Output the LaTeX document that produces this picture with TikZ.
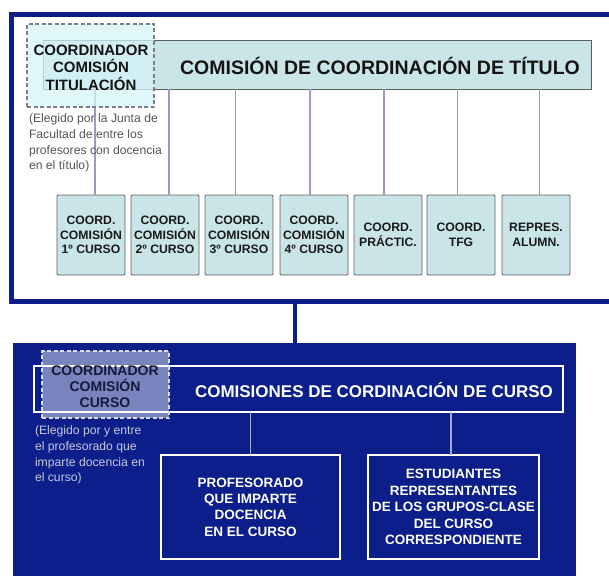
\documentclass[tikz,border=0pt]{standalone}
\usepackage{fontspec}
\setmainfont{Liberation Sans}
\definecolor{navy}{HTML}{0B1E8A}
\definecolor{lcyan}{HTML}{C9E5E8}
\definecolor{pcyan}{HTML}{D6F4F9}
\definecolor{edgegray}{HTML}{5A5F62}
\definecolor{vgray}{HTML}{9A9CBC}
\definecolor{notegray}{HTML}{555555}
\definecolor{notelight}{HTML}{C5C9DD}
\definecolor{darktext}{HTML}{15193A}
\definecolor{vblue}{HTML}{A3ABD2}
\tikzset{
  boxat/.style={anchor=north west, inner sep=0pt, outer sep=0pt},
  smallbox/.style={boxat, draw=edgegray, line width=0.9pt, fill=lcyan, rounded corners=1pt,
    minimum width=68pt, minimum height=80pt, align=center, text=black!90,
    font=\bfseries\fontsize{12.2}{14.5}\selectfont},
  vline/.style={draw=vgray, line width=1.5pt},
  wline/.style={draw=vblue, line width=1.5pt},
  whitebox/.style={boxat, draw=white, line width=2.2pt, minimum height=104pt, align=center,
    text=white, font=\bfseries\fontsize{13.5}{16.4}\selectfont},
}
\begin{document}
\begin{tikzpicture}[x=1pt,y=-1pt]
\useasboundingbox (0,0) rectangle (609,575);
\clip (0,0) rectangle (609,575);
% top frame
\node[boxat, draw=navy, line width=5pt, minimum width=620pt, minimum height=286pt] (topframe) at (11.5,15) {};
% bottom navy box
\node[boxat, fill=navy, minimum width=563pt, minimum height=260pt] (botframe) at (13,343) {};
\coordinate (cx) at (295,320);
\draw[navy, line width=4pt] (cx |- topframe.south) -- (cx |- botframe.north);
% header
\node[boxat, draw=edgegray, line width=0.9pt, fill=lcyan, minimum width=548pt, minimum height=49pt] (head) at (43,40) {};
\node[font=\bfseries\fontsize{19.5}{22}\selectfont, text=black!92] (title) at (380,66) {COMISIÓN DE COORDINACIÓN DE TÍTULO};
% small boxes
\node[smallbox] (b1) at (57,195) {COORD.\\COMISIÓN\\1º CURSO};
\node[smallbox] (b2) at (131,195) {COORD.\\COMISIÓN\\2º CURSO};
\node[smallbox] (b3) at (205,195) {COORD.\\COMISIÓN\\3º CURSO};
\node[smallbox] (b4) at (280,195) {COORD.\\COMISIÓN\\4º CURSO};
\node[smallbox] (b5) at (354,195) {COORD.\\PRÁCTIC.};
\node[smallbox] (b6) at (427,195) {COORD.\\TFG};
\node[smallbox] (b7) at (502,195) {REPRES.\\ALUMN.};
\draw[vline] ([xshift=4pt]b1.north) -- ([xshift=4pt]b1.north |- head.south);
\draw[vline] ([xshift=4pt]b2.north) -- ([xshift=4pt]b2.north |- head.south);
\draw[vline] ([xshift=-3.5pt]b3.north) -- ([xshift=-3.5pt]b3.north |- head.south);
\draw[vline] ([xshift=-4pt]b4.north) -- ([xshift=-4pt]b4.north |- head.south);
\draw[vline] ([xshift=-4pt]b5.north) -- ([xshift=-4pt]b5.north |- head.south);
\draw[vline] ([xshift=-3.5pt]b6.north) -- ([xshift=-3.5pt]b6.north |- head.south);
\draw[vline] ([xshift=3.5pt]b7.north) -- ([xshift=3.5pt]b7.north |- head.south);
% coordinator titulación
\node[boxat, draw=edgegray!80, dashed, dash pattern=on 4pt off 2.5pt, line width=1.6pt,
  fill=pcyan, fill opacity=0.75, minimum width=127pt, minimum height=83pt] (coordtit) at (27,24) {};
\node[align=center, text=black!92, font=\bfseries\fontsize{15}{17.5}\selectfont] (coordtittext) at (91,67.5) {COORDINADOR\\COMISIÓN\\TITULACIÓN};
\node[boxat, align=left, text=notegray, font=\fontsize{12.2}{15.6}\selectfont] (notetit) at (29,114) {(Elegido por la Junta de\\Facultad de entre los\\profesores con docencia\\en el título)};
% bottom part
\node[boxat, draw=white, line width=2.5pt, minimum width=529pt, minimum height=46pt] (curhead) at (34,366) {};
\node[text=white, font=\bfseries\fontsize{17}{20}\selectfont] (curtitle) at (374,390) {COMISIONES DE CORDINACIÓN DE CURSO};
\node[boxat, draw=white!85!navy, dashed, dash pattern=on 4pt off 2.5pt, line width=1.5pt,
  fill=white, fill opacity=0.45, minimum width=127pt, minimum height=67pt] (coordcur) at (42,351) {};
\node[align=center, text=darktext, font=\bfseries\fontsize{14}{16}\selectfont] (coordcurtext) at (105,387) {COORDINADOR\\COMISIÓN\\CURSO};
\node[boxat, align=left, text=notelight, font=\fontsize{12.2}{15.7}\selectfont] (notecur) at (35,426) {(Elegido por y entre\\el profesorado que\\imparte docencia en\\el curso)};
\node[whitebox, minimum width=179pt] (prof) at (161,455) {PROFESORADO\\QUE IMPARTE\\DOCENCIA\\EN EL CURSO};
\node[whitebox, minimum width=171pt] (est) at (368,455) {ESTUDIANTES\\REPRESENTANTES\\DE LOS GRUPOS-CLASE\\DEL CURSO\\CORRESPONDIENTE};
\draw[wline] (prof.north) -- (prof.north |- curhead.south);
\draw[wline] ([xshift=-2.5pt]est.north) -- ([xshift=-2.5pt]est.north |- curhead.south);
\end{tikzpicture}
\end{document}
